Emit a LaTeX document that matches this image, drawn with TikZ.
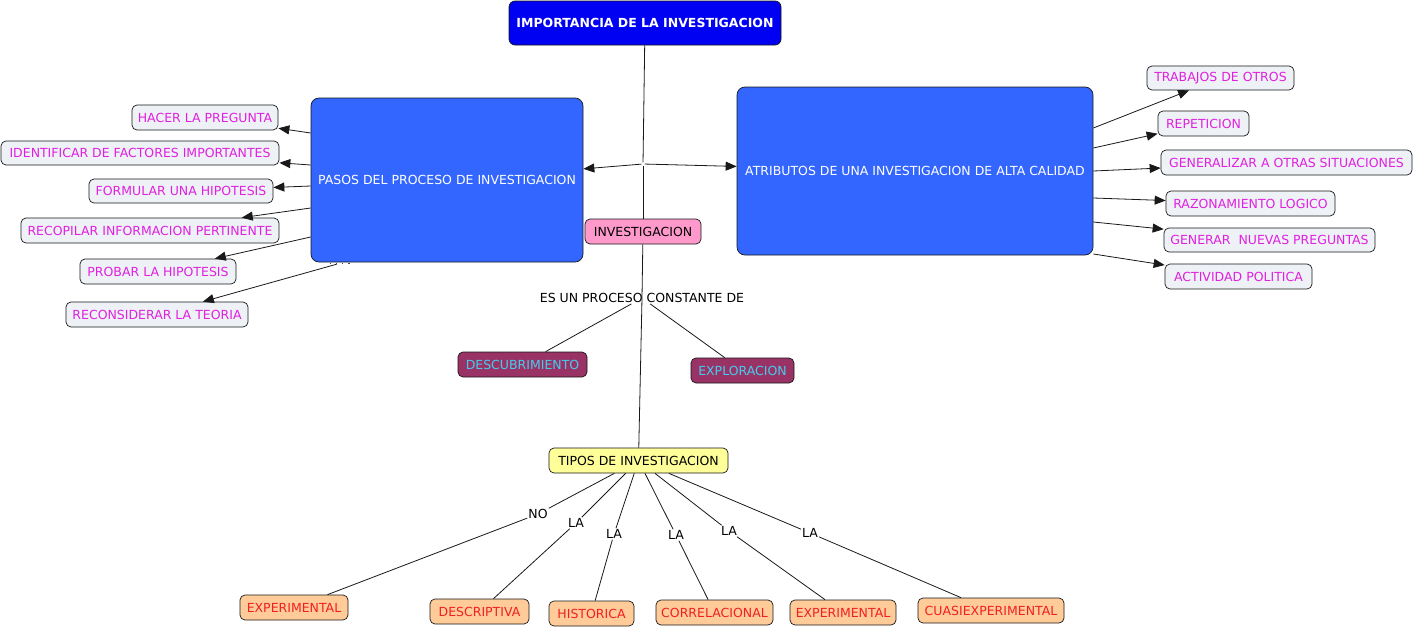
\documentclass[tikz,border=0pt]{standalone}
\usepackage{fontspec}
\setmainfont{DejaVu Sans}
\usetikzlibrary{arrows.meta}
\definecolor{titleblue}{HTML}{0000F2}
\definecolor{boxblue}{HTML}{3366FF}
\definecolor{leaffill}{HTML}{EEF2F6}
\definecolor{leaftext}{HTML}{E020E0}
\definecolor{pinkfill}{HTML}{FF99CC}
\definecolor{maroonfill}{HTML}{993366}
\definecolor{cyantext}{HTML}{44CCEE}
\definecolor{yellowfill}{HTML}{FFFF99}
\definecolor{orangefill}{HTML}{FFCC99}
\definecolor{redtext}{HTML}{F02020}
\newcommand\myfs{\fontsize{12.5}{14}\selectfont}
\tikzset{
  base/.style={draw=black!90, line width=0.7pt, rounded corners=5pt, inner sep=0pt, font=\myfs, align=center},
  titlebox/.style={base, fill=titleblue, text=white, font=\myfs\bfseries, rounded corners=6pt},
  bigbox/.style={base, fill=boxblue, text=white, rounded corners=8pt},
  leaf/.style={base, fill=leaffill, text=leaftext},
  pinkbox/.style={base, fill=pinkfill, text=black},
  maroonbox/.style={base, fill=maroonfill, text=cyantext},
  yellowbox/.style={base, fill=yellowfill, text=black},
  typebox/.style={base, fill=orangefill, text=redtext},
  linklabel/.style={inner sep=1pt, fill=white, font=\myfs, text=black},
  conn/.style={draw=black!90, line width=0.8pt},
  arr/.style={conn, -{Triangle[length=11pt,width=9pt]}},
}
\begin{document}
\begin{tikzpicture}[x=1pt,y=-1pt]
\useasboundingbox[fill=white] (0,0) rectangle (1414,629);
% main nodes
\node[titlebox, minimum width=272pt, minimum height=44pt] (title) at (645,23) {IMPORTANCIA DE LA INVESTIGACION};
\node[bigbox, minimum width=272pt, minimum height=164pt] (pasos) at (447,180) {PASOS DEL PROCESO DE INVESTIGACION};
\node[bigbox, minimum width=356pt, minimum height=168pt] (atrib) at (915,171) {ATRIBUTOS DE UNA INVESTIGACION DE ALTA CALIDAD};
\node[fill=white, inner sep=0pt, minimum size=3pt] (j) at (643,164) {};
\node[pinkbox, minimum width=116pt, minimum height=25pt] (inv) at (643,231.5) {INVESTIGACION};
\node[inner sep=1pt, font=\myfs] (esun) at (642,298) {ES UN PROCESO CONSTANTE DE};
\node[maroonbox, minimum width=129pt, minimum height=25pt] (descu) at (522.5,364.5) {DESCUBRIMIENTO};
\node[maroonbox, minimum width=103pt, minimum height=25pt] (explo) at (742.5,370.5) {EXPLORACION};
\node[yellowbox, minimum width=179pt, minimum height=25pt] (tipos) at (638.5,460.5) {TIPOS DE INVESTIGACION};
% left leaves
\node[leaf, minimum width=146pt, minimum height=25pt] (hacer) at (205,117.5) {HACER LA PREGUNTA};
\node[leaf, minimum width=278pt, minimum height=24pt] (ident) at (140,153) {IDENTIFICAR DE FACTORES IMPORTANTES};
\node[leaf, minimum width=184pt, minimum height=24pt] (formular) at (181,191) {FORMULAR UNA HIPOTESIS};
\node[leaf, minimum width=258pt, minimum height=25pt] (recop) at (150,230.5) {RECOPILAR INFORMACION PERTINENTE};
\node[leaf, minimum width=156pt, minimum height=25pt] (probar) at (158,271.5) {PROBAR LA HIPOTESIS};
\node[leaf, minimum width=182pt, minimum height=25pt] (recons) at (157,314.5) {RECONSIDERAR LA TEORIA};
% right leaves
\node[leaf, minimum width=147pt, minimum height=24pt] (trab) at (1220.5,78) {TRABAJOS DE OTROS};
\node[leaf, minimum width=91pt, minimum height=25pt] (repet) at (1203.5,123.5) {REPETICION};
\node[leaf, minimum width=251pt, minimum height=25pt] (gener) at (1286.5,162.5) {GENERALIZAR A OTRAS SITUACIONES};
\node[leaf, minimum width=169pt, minimum height=25pt] (razon) at (1250.5,203.5) {RAZONAMIENTO LOGICO};
\node[leaf, minimum width=211pt, minimum height=24pt] (nuevas) at (1269.5,240) {GENERAR\ \ NUEVAS PREGUNTAS};
\node[leaf, minimum width=147pt, minimum height=25pt] (activ) at (1238.5,276.5) {ACTIVIDAD POLITICA};
% bottom types
\node[typebox, minimum width=108pt, minimum height=25pt] (exp1) at (294,607.5) {EXPERIMENTAL};
\node[typebox, minimum width=99pt, minimum height=25pt] (descr) at (479.5,611.5) {DESCRIPTIVA};
\node[typebox, minimum width=85pt, minimum height=25pt] (hist) at (591.5,613.5) {HISTORICA};
\node[typebox, minimum width=117pt, minimum height=25pt] (corr) at (714.5,612.5) {CORRELACIONAL};
\node[typebox, minimum width=106pt, minimum height=25pt] (exp2) at (843,612.5) {EXPERIMENTAL};
\node[typebox, minimum width=146pt, minimum height=25pt] (cuasi) at (991,610.5) {CUASIEXPERIMENTAL};
% link labels
\node[linklabel] (lno) at (538,514) {NO};
\node[linklabel] (la1) at (576,523) {LA};
\node[linklabel] (la2) at (614,534) {LA};
\node[linklabel] (la3) at (676,535) {LA};
\node[linklabel] (la4) at (729,531) {LA};
\node[linklabel] (la5) at (810,533) {LA};
\node[inner sep=0pt, minimum width=22pt, minimum height=2pt] (dots) at (341,263) {};
\draw[line width=0.8pt, dash pattern=on 1.2pt off 5pt, black!70] (dots.west) -- (dots.east);
% connectors
\draw[conn] (title) -- (j);
\draw[arr] (j) -- (pasos);
\draw[arr] (j) -- (atrib);
\draw[conn] (j) -- (inv);
\draw[conn] (inv) -- (esun.center);
\draw[conn] (esun.center) -- (tipos);
\draw[conn] (esun) -- (descu);
\draw[conn] (esun) -- (explo);
% left arrows
\draw[arr] (pasos.west |- 0,133) -- (hacer);
\draw[arr] (pasos.west |- 0,165) -- (ident);
\draw[arr] (pasos.west |- 0,186) -- (formular);
\draw[arr] (pasos.west |- 0,208) -- (recop);
\draw[arr] (pasos.west |- 0,237) -- (probar);
\draw[arr] (dots) -- (recons);
% right arrows
\draw[arr] (atrib.east |- 0,128) -- (trab);
\draw[arr] (atrib.east |- 0,148) -- (repet);
\draw[arr] (atrib.east |- 0,171) -- (gener);
\draw[arr] (atrib.east |- 0,198) -- (razon);
\draw[arr] (atrib.east |- 0,222) -- (nuevas);
\draw[arr] (atrib.east |- 0,254) -- (activ);
% types
\draw[conn] (tipos) -- (lno);  \draw[conn] (lno) -- (exp1);
\draw[conn] (tipos) -- (la1);  \draw[conn] (la1) -- (descr);
\draw[conn] (tipos) -- (la2);  \draw[conn] (la2) -- (hist);
\draw[conn] (tipos) -- (la3);  \draw[conn] (la3) -- (corr);
\draw[conn] (tipos) -- (la4);  \draw[conn] (la4) -- (exp2);
\draw[conn] (tipos) -- (la5);  \draw[conn] (la5) -- (cuasi);
\end{tikzpicture}
\end{document}
